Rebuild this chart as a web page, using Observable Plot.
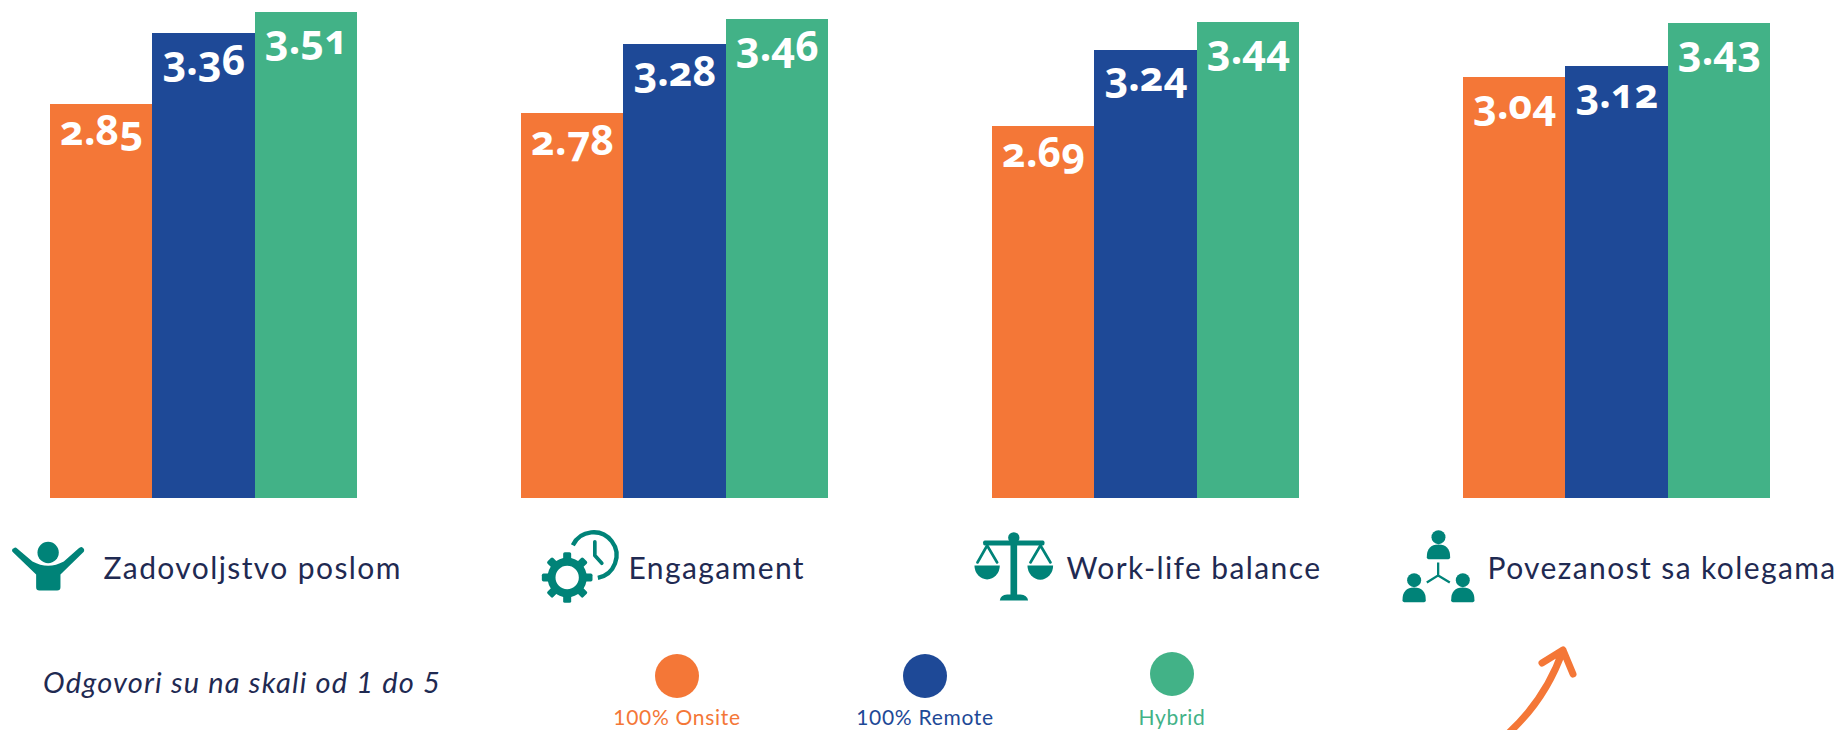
<!DOCTYPE html>
<html><head><meta charset="utf-8">
<script src="https://cdn.jsdelivr.net/npm/d3@7"></script>
<script src="https://cdn.jsdelivr.net/npm/@observablehq/plot@0.6"></script>
<style>
html,body{margin:0;padding:0;background:#fff;overflow:hidden;width:1845px;height:730px}
svg{display:block}
#legend{position:relative;width:1845px;height:110px;overflow:hidden;font-family:Lato,sans-serif}
#legend .dot{position:absolute;width:44px;height:44px;border-radius:50%}
#legend .lab{position:absolute;transform:translateX(-50%);font-size:21px;line-height:18px;letter-spacing:.7px;white-space:nowrap}
#note{position:absolute;left:43px;top:44px;font-style:italic;font-size:29px;line-height:36px;letter-spacing:1.2px;color:#1F2A52;white-space:nowrap}
#arrow{position:absolute;left:0;top:0}
</style></head><body>
<div id="chart"></div>
<div id="legend"></div>
<script>
const categories = ["Zadovoljstvo poslom", "Engagament", "Work-life balance", "Povezanost sa kolegama"];
const series = ["100% Onsite", "100% Remote", "Hybrid"];
const onsite = [2.85, 2.78, 2.69, 3.04];
const remote = [3.36, 3.28, 3.24, 3.12];
const hybrid = [3.51, 3.46, 3.44, 3.43];
const colors = ["#F47737", "#1E4997", "#42B287"];
const note = "Odgovori su na skali od 1 do 5";
const teal = "#008378", ink = "#1F2A52";

const rows = categories.flatMap((c, i) => [onsite, remote, hybrid].map((v, s) => ({category: c, series: series[s], value: v[i]})));

const gearTeeth = d3.range(8).map(i => `<rect x="188" y="155" width="24" height="28" rx="5" transform="rotate(${i * 45} 200 231)"/>`).join("");
const iconBodies = {
  "Zadovoljstvo poslom": {box: [20, 170, 250, 170], dx: -1.7, dy: 67, svg:
    `<circle cx="143" cy="216" r="32"/><path d="M40 203Q32 206 36 214L107 282V320Q107 330 117 330H170Q180 330 180 320V282L250 214Q254 205 245 200Q240 198 234 204L190 243Q143 268 96 243L50 204Q45 199 40 203Z"/>`},
  "Engagament": {box: [110, 80, 260, 240], dx: 59, dy: 68.7, svg:
    gearTeeth + `<circle cx="200" cy="231" r="47" fill="none" stroke="${teal}" stroke-width="24"/>
     <path d="M217 134A69 69 0 1 1 292 232" fill="none" stroke="${teal}" stroke-width="13"/>
     <path d="M283 124V165L304 188" fill="none" stroke="${teal}" stroke-width="11" stroke-linecap="round" stroke-linejoin="round"/>`},
  "Work-life balance": {box: [60, 85, 260, 225], dx: 21.3, dy: 67.8, svg:
    `<circle cx="190" cy="112" r="17"/><rect x="98" y="120" width="184" height="15" rx="5"/><rect x="180" y="110" width="20" height="180"/>
     <path d="M148 300Q150 283 170 282H210Q230 283 233 300Z"/>
     <path d="M72 195H148A38 42 0 0 1 72 195Z"/><path d="M231 195H308A38 42 0 0 1 231 195Z"/>
     <path d="M81 186L110 135L140 186M240 186L270 135L300 186" fill="none" stroke="${teal}" stroke-width="8" stroke-linecap="round"/>`},
  "Povezanost sa kolegama": {box: [50, 80, 250, 235], dx: -24.7, dy: 67.8, svg:
    [[174, 110], [101, 239], [247, 239]].map(([x, y]) => `<circle cx="${x}" cy="${y}" r="21"/><path d="M${x - 35} ${y + 60}Q${x - 35} ${y + 22} ${x} ${y + 22}Q${x + 35} ${y + 22} ${x + 35} ${y + 60}Q${x + 35} ${y + 66} ${x + 26} ${y + 66}H${x - 26}Q${x - 35} ${y + 66} ${x - 35} ${y + 60}Z"/>`).join("") +
    `<path d="M173 186V225L139 246M173 225L208 246" fill="none" stroke="${teal}" stroke-width="7"/>`}
};
const iconUri = c => {
  const b = iconBodies[c].box;
  const s = `<svg xmlns="http://www.w3.org/2000/svg" viewBox="${b.join(" ")}" width="${b[2] / 3}" height="${b[3] / 3}" fill="${teal}">${iconBodies[c].svg}</svg>`;
  return "data:image/svg+xml;utf8," + encodeURIComponent(s);
};
const labelDx = [53, 107, 74, 24];

const chart = Plot.plot({
  width: 1845, height: 620,
  marginLeft: 50, marginRight: 74.9, marginTop: 0, marginBottom: 122,
  style: {fontFamily: "Lato, sans-serif", background: "#fff"},
  fx: {domain: categories, paddingInner: 0.348, paddingOuter: 0, round: false, axis: null, label: null},
  x: {domain: series, padding: 0, round: false, axis: null, label: null},
  y: {domain: [0, 3.5996], axis: null, label: null, grid: false},
  color: {domain: series, range: colors},
  marks: [
    Plot.barY(rows, {fx: "category", x: "series", y: "value", fill: "series", shapeRendering: "crispEdges"}),
    Plot.text(rows, {fx: "category", x: "series", y: "value", text: d => d.value.toFixed(2), fill: "#fff",
      fontFamily: "Noto Sans", fontVariant: "oldstyle-nums", fontSize: 41, fontWeight: 700, dy: 28, textAnchor: "middle"}),
    ...categories.flatMap((c, i) => [
      Plot.image([c], {fx: d => d, src: d => iconUri(d), frameAnchor: "bottom-left",
        width: iconBodies[c].box[2] / 3, height: iconBodies[c].box[3] / 3, dx: iconBodies[c].dx, dy: iconBodies[c].dy}),
      Plot.text([c], {fx: d => d, text: d => d, frameAnchor: "bottom-left", textAnchor: "start", lineAnchor: "bottom",
        fill: ink, fontSize: 30, dx: labelDx[i], dy: 80})
    ])
  ]
});
document.getElementById("chart").append(chart);
chart.querySelectorAll("text").forEach(t => { if (categories.includes(t.textContent)) t.style.letterSpacing = "1.4px"; });

const legend = document.getElementById("legend");
const legendPos = [[677, 56, 88], [925, 56, 88], [1172, 54, 88]];
series.forEach((s, i) => {
  const [x, y, ly] = legendPos[i];
  const dot = document.createElement("div");
  dot.className = "dot";
  dot.style.cssText = `left:${x - 22}px;top:${y - 22}px;background:${colors[i]}`;
  const lab = document.createElement("div");
  lab.className = "lab";
  lab.textContent = s;
  lab.style.cssText = `left:${x}px;top:${ly}px;color:${colors[i]}`;
  legend.append(dot, lab);
});
const n = document.createElement("div");
n.id = "note"; n.textContent = note;
legend.append(n);
legend.insertAdjacentHTML("beforeend",
  `<svg id="arrow" width="1845" height="110" fill="none" stroke="${colors[0]}" stroke-width="7" stroke-linecap="round" stroke-linejoin="round">
    <path d="M1503 118Q1545 82 1563 30M1542 43L1563 30L1573 54"/></svg>`);
</script>
</body></html>
